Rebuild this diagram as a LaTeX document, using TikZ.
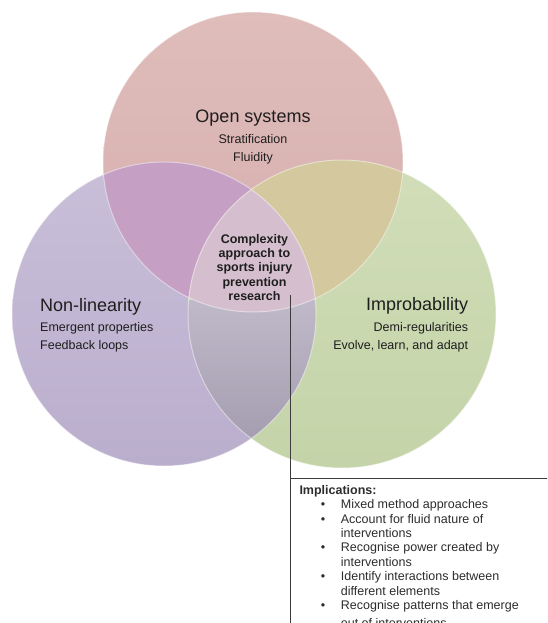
\documentclass[tikz,border=0pt]{standalone}
\usepackage{fontspec}
\setmainfont{Liberation Sans}
\definecolor{topa}{RGB}{223,189,187}
\definecolor{topb}{RGB}{213,173,171}
\definecolor{lefta}{RGB}{201,191,217}
\definecolor{leftb}{RGB}{186,174,205}
\definecolor{righta}{RGB}{209,222,185}
\definecolor{rightb}{RGB}{196,211,168}
\definecolor{tlc}{RGB}{198,160,196}
\definecolor{trc}{RGB}{211,200,158}
\definecolor{lra}{RGB}{192,185,202}
\definecolor{lrb}{RGB}{158,152,170}
\definecolor{ctrc}{RGB}{213,191,206}
\definecolor{txt}{RGB}{30,30,30}
\definecolor{boxtxt}{RGB}{45,45,45}
\definecolor{linec}{RGB}{60,60,60}
\tikzset{
  title/.style={font=\fontsize{18}{21}\selectfont, text=txt, inner sep=0pt},
  sub/.style={font=\fontsize{12.5}{14.4}\selectfont, text=txt, inner sep=0pt},
  rim/.style={draw=white, draw opacity=0.45, line width=1pt},
  conn/.style={draw=linec, line width=1.1pt}
}
\begin{document}
\begin{tikzpicture}[x=1pt,y=-1pt]
\clip (0,0) rectangle (547,623);
\fill[white] (0,0) rectangle (547,623);
\coordinate (cT) at (253,162);
\coordinate (cL) at (164,314);
\coordinate (cR) at (342,314);
% circle fills
\shade[top color=topa, bottom color=topb] (cT) circle (150pt);
\shade[top color=lefta, bottom color=leftb] (cL) circle (152pt);
\shade[top color=righta, bottom color=rightb] (cR) circle (154pt);
\begin{scope}\clip (cT) circle (150pt); \fill[tlc] (cL) circle (152pt);\end{scope}
\begin{scope}\clip (cT) circle (150pt); \fill[trc] (cR) circle (154pt);\end{scope}
\begin{scope}\clip (cL) circle (152pt); \clip (cR) circle (154pt);
  \shade[top color=lra, bottom color=lrb] (170,300) rectangle (340,470);\end{scope}
\begin{scope}\clip (cT) circle (150pt); \clip (cL) circle (152pt); \fill[ctrc] (cR) circle (154pt);\end{scope}
\draw[rim] (cT) circle (150pt);
\draw[rim] (cL) circle (152pt);
\draw[rim] (cR) circle (154pt);
% texts
\node[title, anchor=base] (openT) at (253,122) {Open systems};
\node[sub, anchor=base] (openA) at (253,143) {Stratification};
\node[sub, anchor=base] (openB) at (253,161) {Fluidity};
\node[title, anchor=base west] (nonT) at (40,311.7) {Non-linearity};
\node[sub, anchor=base west] (nonA) at (40,331) {Emergent properties};
\node[sub, anchor=base west] (nonB) at (40,349) {Feedback loops};
\node[title, anchor=base east] (impT) at (468.3,310.7) {Improbability};
\node[sub, anchor=base east] (impA) at (468.3,331) {Demi-regularities};
\node[sub, anchor=base east] (impB) at (468.3,349) {Evolve, learn, and adapt};
\node[sub, anchor=base, font=\fontsize{12.5}{14.4}\selectfont\bfseries] (ctr) at (254.5,243)
  {\parbox[t]{110pt}{\centering Complexity\\approach to\\sports injury\\prevention\\research}};
% implications box
\node[inner sep=0pt, anchor=base west, text=boxtxt, font=\fontsize{12.5}{14.4}\selectfont] (impl) at (299.3,494.3)
  {\parbox[t]{240pt}{\raggedright
   \textbf{Implications:}\\
   \hspace*{21.4pt}\makebox[20pt][l]{\textbullet}Mixed method approaches\\
   \hspace*{21.4pt}\makebox[20pt][l]{\textbullet}Account for fluid nature of\\
   \hspace*{41.4pt}interventions\\
   \hspace*{21.4pt}\makebox[20pt][l]{\textbullet}Recognise power created by\\
   \hspace*{41.4pt}interventions\\
   \hspace*{21.4pt}\makebox[20pt][l]{\textbullet}Identify interactions between\\
   \hspace*{41.4pt}different elements\\
   \hspace*{21.4pt}\makebox[20pt][l]{\textbullet}Recognise patterns that emerge\\[3.5pt]
   \hspace*{41.4pt}out of interventions}};
\coordinate (lnTop) at (290.5,295);
\coordinate (boxTL) at (290.5,478.8);
\coordinate (boxBL) at (290.5,640);
\coordinate (boxTR) at (560,478.8);
\draw[conn] (lnTop) -- (boxTL);
\draw[conn] (boxBL) -- (boxTL) -- (boxTR);
\end{tikzpicture}
\end{document}
